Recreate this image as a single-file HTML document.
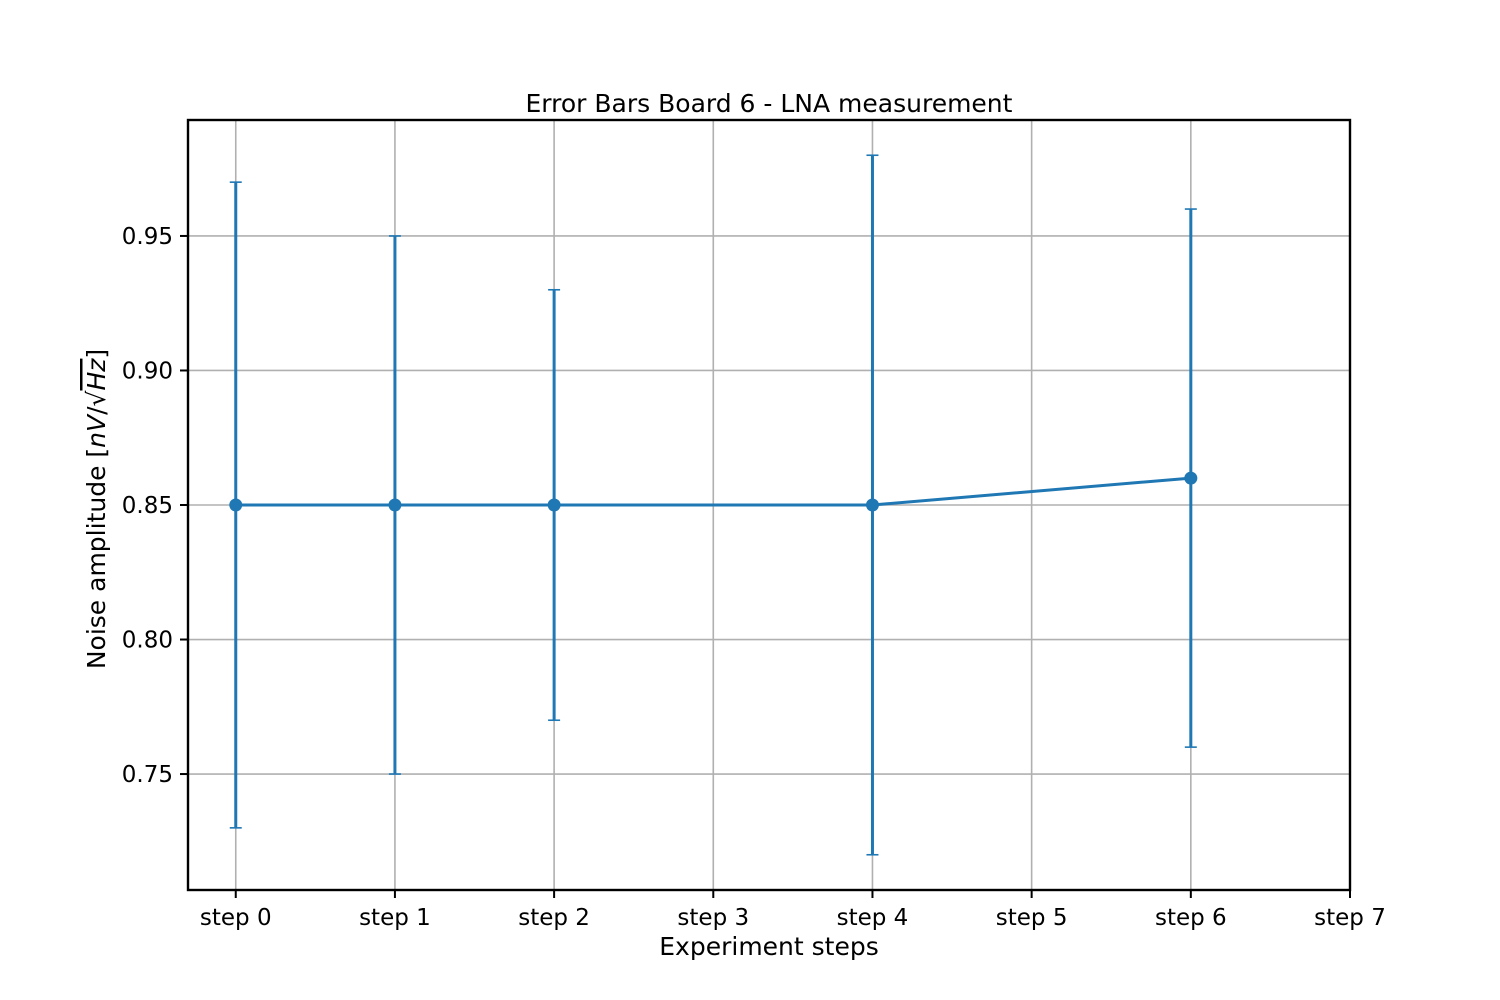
<!DOCTYPE html>
<html><head><meta charset="utf-8"><style>
body{margin:0;background:#fff;}
svg{display:block;font-family:"DejaVu Sans","Liberation Sans",sans-serif;}
</style></head><body>
<svg id="chart" width="1500" height="1000" xmlns="http://www.w3.org/2000/svg">
<rect width="1500" height="1000" fill="#fff"/>
<g id="grid"></g>
<g id="series"></g>
<rect x="188" y="120" width="1162" height="770" fill="none" stroke="#000" stroke-width="2.4"/>
<g id="ticks"></g>
<text x="769" y="112" font-size="25" text-anchor="middle">Error Bars Board 6 - LNA measurement</text>
<text x="769" y="955" font-size="25" text-anchor="middle">Experiment steps</text>
<g transform="translate(105,509) rotate(-90)">
<text x="0" y="0" font-size="25" text-anchor="middle">Noise amplitude [<tspan font-style="italic">nV</tspan>/√<tspan font-style="italic" text-decoration="overline">Hz</tspan>]</text>
</g>
</svg>
<script>
const categories=["step 0","step 1","step 2","step 3","step 4","step 5","step 6","step 7"];
const xs=[0,1,2,4,6];
const values=[0.85,0.85,0.85,0.85,0.86];
const upper=[0.97,0.95,0.93,0.98,0.96];
const lower=[0.73,0.75,0.77,0.72,0.76];
const yTicks=[0.75,0.80,0.85,0.90,0.95];
const yTickLabels=["0.75","0.80","0.85","0.90","0.95"];

const L=188,R=1350,T=120,B=890,xmin=-0.3,xmax=7,ymin=0.7069,ymax=0.9931;
const X=v=>L+(v-xmin)/(xmax-xmin)*(R-L);
const Y=v=>B-(v-ymin)/(ymax-ymin)*(B-T);
const NS="http://www.w3.org/2000/svg";
function mk(tag,attrs,parent){const e=document.createElementNS(NS,tag);for(const k in attrs)e.setAttribute(k,attrs[k]);parent.appendChild(e);return e;}
const grid=document.getElementById('grid'),ticks=document.getElementById('ticks'),series=document.getElementById('series');
categories.forEach((c,i)=>{
  const x=X(i);
  const g=mk('line',{x1:x,x2:x,y1:T,y2:B,stroke:'#b0b0b0','stroke-width':1.6},grid);
  
  
  const t=mk('line',{x1:x,x2:x,y1:B,y2:B+8,stroke:'#000','stroke-width':2},ticks);
  
  
  const l=mk('text',{x:x,y:B+35,'font-size':23,'text-anchor':'middle'},ticks);
  l.textContent=c;
  
  
});
yTicks.forEach((v,i)=>{
  const y=Y(v);
  const g=mk('line',{x1:L,x2:R,y1:y,y2:y,stroke:'#b0b0b0','stroke-width':1.6},grid);
  
  
  const t=mk('line',{x1:L-8,x2:L,y1:y,y2:y,stroke:'#000','stroke-width':2},ticks);
  
  
  const l=mk('text',{x:L-15,y:y+8,'font-size':23,'text-anchor':'end'},ticks);
  l.textContent=yTickLabels[i];
  
  
});
const c='#1f77b4';
xs.forEach((s,i)=>{
  const x=X(s);
  const e=mk('line',{x1:x,x2:x,y1:Y(upper[i]),y2:Y(lower[i]),stroke:c,'stroke-width':3},series);
  
  
  [upper[i],lower[i]].forEach(v=>{
    const cap=mk('line',{x1:x-6,x2:x+6,y1:Y(v),y2:Y(v),stroke:c,'stroke-width':1.6},series);
    
    
  });
});
const line=mk('polyline',{points:xs.map((s,i)=>X(s)+','+Y(values[i])).join(' '),fill:'none',stroke:c,'stroke-width':3},series);


xs.forEach((s,i)=>{
  const p=mk('circle',{cx:X(s),cy:Y(values[i]),r:6.5,fill:c},series);
  
  
});
</script>
</body></html>
